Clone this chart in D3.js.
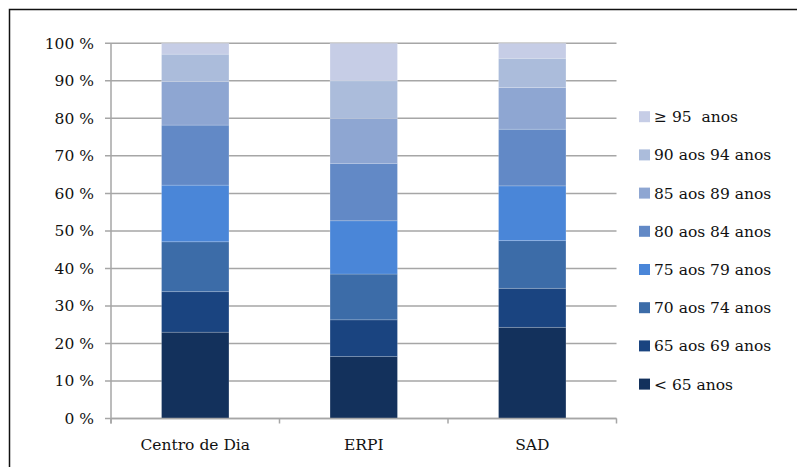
<!DOCTYPE html>
<html>
<head>
<meta charset="utf-8">
<script src="https://cdn.jsdelivr.net/npm/d3@7/dist/d3.min.js"></script>
<style>
  html, body { margin: 0; padding: 0; background: #fff; }
  svg { display: block; }
  text { font-family: "DejaVu Serif", serif; fill: #111; }
  .legend text { white-space: pre; }
</style>
</head>
<body>
<svg id="chart" width="797" height="467"></svg>
<script>
// Age groups, bottom to top of each stack
const ageGroups = ["< 65 anos", "65 aos 69 anos", "70 aos 74 anos", "75 aos 79 anos",
                   "80 aos 84 anos", "85 aos 89 anos", "90 aos 94 anos", "≥ 95  anos"];
const services = ["Centro de Dia", "ERPI", "SAD"];

// Share (%) of each age group per service, in ageGroups order
const centroDeDia = [23.0, 10.8, 13.3, 15.1, 16.0, 11.6, 7.3, 2.9];
const erpi        = [16.5,  9.8, 12.2, 14.2, 15.3, 12.0, 10.0, 10.0];
const sad         = [24.3, 10.4, 12.7, 14.6, 15.1, 11.1, 7.8, 4.0];

const yTicks = [0, 10, 20, 30, 40, 50, 60, 70, 80, 90, 100];
const groupColors = ["#13315c", "#1a4480", "#3c6ca8", "#4a86d8",
                     "#6289c6", "#8ea6d2", "#abbcdb", "#c6cde6"];

const seriesByService = [centroDeDia, erpi, sad];
const rows = services.map((s, i) => {
  const r = { service: s };
  ageGroups.forEach((g, j) => { r[g] = seriesByService[i][j]; });
  return r;
});

const svg = d3.select("#chart");

// outer frame
svg.append("rect")
  .attr("x", 9.5).attr("y", 9.5)
  .attr("width", 800).attr("height", 470)
  .attr("fill", "none").attr("stroke", "#111").attr("stroke-width", 1.5);

const plot = { left: 111, right: 616.5, top: 43.3, bottom: 418.5 };

const x = d3.scaleBand().domain(services).range([plot.left, plot.right]).padding(0);
const y = d3.scaleLinear().domain([0, 100]).range([plot.bottom, plot.top]);

const gridColor = "#a6a6a6";

// horizontal gridlines with left tick stubs
svg.append("g")
  .selectAll("line")
  .data(yTicks)
  .join("line")
  .attr("x1", plot.left - 6).attr("x2", plot.right)
  .attr("y1", d => y(d)).attr("y2", d => y(d))
  .attr("stroke", gridColor).attr("stroke-width", 1.5);

// y axis labels
const yAxis = d3.axisLeft(y).tickValues(yTicks).tickSize(0).tickPadding(17)
  .tickFormat(d => d + " %");
svg.append("g")
  .attr("transform", `translate(${plot.left},0)`)
  .call(yAxis)
  .call(g => g.select(".domain").remove())
  .call(g => g.selectAll("text")
    .attr("font-family", "DejaVu Serif, serif")
    .attr("font-size", 15.5).attr("fill", "#111"));

// y axis line
svg.append("line")
  .attr("x1", plot.left).attr("x2", plot.left)
  .attr("y1", plot.top).attr("y2", plot.bottom + 5)
  .attr("stroke", gridColor).attr("stroke-width", 1.5);

// stacked bars
const stack = d3.stack().keys(ageGroups);
const layers = stack(rows);
const barW = x.bandwidth() * 0.4;

svg.append("g")
  .selectAll("g")
  .data(layers)
  .join("g")
  .attr("fill", (d, i) => groupColors[i])
  .selectAll("rect")
  .data(d => d)
  .join("rect")
  .attr("x", d => x(d.data.service) + (x.bandwidth() - barW) / 2)
  .attr("width", barW)
  .attr("y", d => y(d[1]))
  .attr("height", d => y(d[0]) - y(d[1]))
  .attr("stroke", "rgba(255,255,255,0.22)")
  .attr("stroke-width", 0.8);

// x axis line with category boundary ticks
svg.append("line")
  .attr("x1", plot.left).attr("x2", plot.right)
  .attr("y1", plot.bottom).attr("y2", plot.bottom)
  .attr("stroke", gridColor).attr("stroke-width", 1.5);

const boundaries = services.map(s => x(s)).concat([plot.right]);
svg.append("g")
  .selectAll("line")
  .data(boundaries)
  .join("line")
  .attr("x1", d => d).attr("x2", d => d)
  .attr("y1", plot.bottom).attr("y2", plot.bottom + 5)
  .attr("stroke", gridColor).attr("stroke-width", 1.5);

const xAxis = d3.axisBottom(x).tickSize(0).tickPadding(20);
svg.append("g")
  .attr("transform", `translate(0,${plot.bottom})`)
  .call(xAxis)
  .call(g => g.select(".domain").remove())
  .call(g => g.selectAll("text")
    .attr("font-family", "DejaVu Serif, serif")
    .attr("font-size", 15.5).attr("fill", "#111"));

// legend, top entry is the oldest group
const legendOrder = ageGroups.map((g, i) => ({ g, c: groupColors[i] })).reverse();
const legend = svg.append("g").attr("class", "legend");
const item = legend.selectAll("g")
  .data(legendOrder)
  .join("g")
  .attr("transform", (d, i) => `translate(639, ${116.7 + i * 38.2})`);
item.append("rect")
  .attr("x", 0).attr("y", -5.5)
  .attr("width", 11).attr("height", 11)
  .attr("fill", d => d.c);
item.append("text")
  .attr("x", 15).attr("y", 0)
  .attr("dy", "0.36em")
  .attr("font-size", 15.5)
  .text(d => d.g);
</script>
</body>
</html>
